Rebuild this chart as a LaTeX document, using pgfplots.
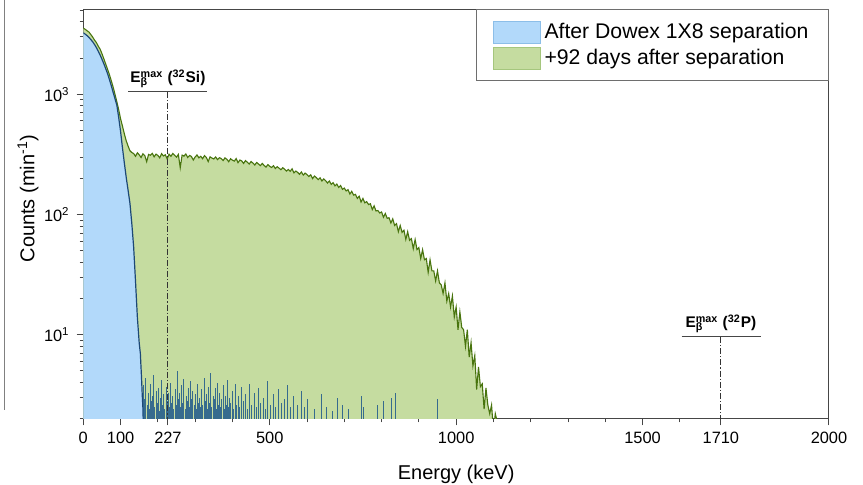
\documentclass[border=0pt]{standalone}
\usepackage{pgfplots}
\pgfplotsset{compat=1.18}
\usepackage{pgfplotstable}
\usepackage{fontspec}
\setmainfont{Liberation Sans}
\definecolor{bluefill}{RGB}{178,217,250}
\definecolor{blueedge}{RGB}{140,190,232}
\definecolor{blueline}{RGB}{28,72,118}
\definecolor{bluenoise}{RGB}{30,88,140}
\definecolor{greenfill}{RGB}{197,220,160}
\definecolor{greenedge}{RGB}{165,198,125}
\definecolor{greenline}{RGB}{72,116,14}
\definecolor{axgray}{RGB}{70,70,70}
\definecolor{leggray}{RGB}{110,110,110}

\pgfplotstableread{
x y
0 3550
5 3480
10 3380
15 3300
20 3150
25 3000
30 2830
35 2700
40 2520
45 2380
50 2180
55 1980
60 1790
65 1620
70 1460
75 1300
80 1150
85 1000
90 865
95 745
100 625
105 545
110 470
115 412
120 372
125 340
130 328
135 322
140 305
145 326
150 314
155 298
160 320
165 309
170 275
175 316
180 311
185 323
190 302
195 318
200 310
205 296
210 321
215 307
220 314
225 290
230 318
235 305
240 322
245 311
250 300
255 316
260 245
265 312
270 306
275 319
280 298
285 310
290 304
295 284
300 301
305 313
310 296
315 305
320 291
325 309
330 298
335 276
340 302
345 295
350 290
355 301
360 286
365 297
370 292
375 281
380 296
385 288
390 275
395 291
400 283
405 278
410 292
415 270
420 284
425 279
430 266
435 281
440 272
445 263
450 276
455 268
460 258
465 271
470 263
475 255
480 266
485 256
490 248
495 260
500 252
505 246
510 255
515 241
520 250
525 243
530 236
535 245
540 238
545 230
550 237
555 229
560 240
565 222
570 230
575 224
580 216
585 226
590 213
595 221
600 215
605 207
610 214
615 199
620 209
625 203
630 195
635 202
640 190
645 198
650 191
655 183
660 190
665 178
670 184
675 173
680 179
685 168
690 174
695 162
700 166
705 157
710 161
715 148
720 156
725 145
730 147
735 136
740 142
745 127
750 136
755 125
760 128
765 121
770 123
775 110
780 118
785 107
790 108
795 103
800 105
805 95
810 102
815 93
820 94
825 85
830 92
835 81
840 84
845 72
850 81
855 71
860 74
865 62
870 72
875 61
880 63
885 52
890 62
895 51
900 53
905 43
910 51
915 42
920 43
925 33
930 42
935 34
940 34
945 28
950 34
955 27
960 26
965 22
970 27
975 19
980 22
985 17
990 21
995 14
1000 17
1005 11
1010 15.5
1015 11.5
1020 11
1025 8
1030 11
1035 6.5
1040 8.6
1045 5.5
1050 6.7
1055 3.5
1060 5.4
1065 3.7
1070 3.9
1075 2.4
1080 3.6
1085 2.6
1090 2.2
1095 2.6
1100 1.6
1105 2.2
1110 1.9
1115 1.5
1120 1
}\greendata

\pgfplotstableread{
x y
0 3250
5 3170
10 3080
15 2980
20 2860
25 2740
30 2600
35 2450
40 2290
45 2130
50 1960
55 1800
60 1640
65 1490
70 1330
75 1180
80 1040
85 920
90 810
95 640
100 490
105 360
110 270
115 205
120 160
125 125
130 85
135 54
140 28
145 14
150 8.5
153 7
156 4.5
158 3.2
160 2.4
162 1.2
170 1
}\bluedata

\pgfplotstableread{
x y
162 3.8
165 2.9
168 4.4
171 2.6
174 3.3
177 2.4
180 3.9
183 2.8
186 3.1
189 4.6
192 2.5
195 3.4
198 2.7
201 3.6
204 2.3
207 3.0
210 4.2
213 2.6
216 3.2
219 2.4
222 3.7
225 2.8
228 3.3
231 2.5
234 4.0
237 2.7
240 3.1
243 2.4
246 3.5
249 2.6
252 5.0
255 2.9
258 3.3
261 2.5
264 3.8
267 2.7
270 4.3
273 2.4
276 3.1
279 2.8
282 3.6
285 2.5
288 4.1
291 2.9
294 3.4
297 2.6
300 3.2
303 2.4
306 3.9
309 2.7
312 3.0
315 2.5
318 3.5
321 2.6
324 4.4
327 2.8
330 3.2
333 2.4
336 3.7
339 2.7
342 4.8
345 2.5
348 3.1
351 2.9
354 3.6
357 2.4
360 4.0
363 2.6
366 3.3
369 2.5
372 2.9
375 3.8
378 2.4
381 3.1
384 2.6
387 4.2
390 2.5
393 3.0
396 2.7
400 3.4
404 2.4
408 3.9
412 2.6
416 3.1
420 2.5
425 3.7
430 2.8
436 3.2
441 2.4
447 3.9
452 2.6
458 3.3
464 2.5
470 3.6
476 2.7
482 3.0
489 2.4
495 4.1
502 2.6
509 3.2
516 2.5
523 3.5
531 2.7
539 2.9
547 3.8
556 2.5
565 3.1
574 2.6
584 3.4
593 2.5
602 2.9
620 2.4
640 3.2
653 2.5
668 2.3
681 3.0
695 2.6
712 2.4
745 3.1
752 2.5
790 2.6
806 2.8
827 3.0
838 3.3
951 2.9
}\noisedata

\begin{document}
\begin{tikzpicture}
\path[use as bounding box] (-41.65pt,-33.15pt) rectangle (389.85pt,209.35pt);
\draw[gray, line width=0.5pt] (-39.15pt,209.35pt) -- (-39.15pt,4.5pt);
\begin{axis}[
  at={(0pt,0pt)}, anchor=south west,
  scale only axis, width=372.85pt, height=204.7pt,
  xmin=0, xmax=2000, ymode=log, ymin=2, ymax=5100,
  axis line style={axgray, line width=0.5pt},
  tick style={axgray, line width=0.5pt},
  tick align=outside, xtick pos=bottom, ytick pos=left,
  major tick length=3.3pt, minor tick length=1.8pt,
  xtick={0,100,227,500,1000,1500,1710,2000},
  xticklabels={0,100,227,500,1000,1500,1710,2000},
  minor xtick={200,300,400,600,700,800,900,1100,1200,1300,1400,1600},
  ytick={10,100,1000},
  yticklabels={10\textsuperscript{1},10\textsuperscript{2},10\textsuperscript{3}},
  minor ytick={2,3,4,5,6,7,8,9,20,30,40,50,60,70,80,90,200,300,400,500,600,700,800,900,2000,3000,4000,5000},
  /pgf/number format/assume math mode=true,
  ticklabel style={font=\fontsize{8.2}{9.8}\selectfont, text=black},
  xlabel={Energy (keV)},
  ylabel={Counts (min\textsuperscript{-1})},
  label style={font=\fontsize{10.3}{12}\selectfont},
  every axis x label/.style={at={(axis description cs:0.5,-0.135)}, anchor=center},
  every axis y label/.style={at={(axis description cs:-0.074,0.538)}, anchor=center, rotate=90},
  legend cell align=left,
  legend style={at={(rel axis cs:1,1)}, anchor=north east, draw=leggray, line width=0.5pt,
    font=\fontsize{10.6}{12.5}\selectfont, inner xsep=8pt, inner ysep=4.5pt, row sep=0pt},
]
\addplot[draw=none, fill=greenfill, forget plot] table[x=x,y=y] {\greendata} \closedcycle;
\addplot[greenline, line width=0.55pt, forget plot] table[x=x,y=y] {\greendata};
\addplot[draw=none, fill=bluefill, forget plot] table[x=x,y=y] {\bluedata} \closedcycle;
\addplot[blueline, line width=0.6pt, forget plot] table[x=x,y=y] {\bluedata};
\addplot[ycomb, bluenoise, opacity=0.85, line width=0.5pt, mark=none, forget plot] table[x=x,y=y] {\noisedata};
\addplot[axgray, line width=0.5pt, forget plot] coordinates {(120,1050) (332,1050)};
\addplot[black!80, line width=0.5pt, dash pattern=on 3pt off 1pt on 0.6pt off 1pt, forget plot] coordinates {(227,1050) (227,1)};
\addplot[axgray, line width=0.5pt, forget plot] coordinates {(1605,9.57) (1817,9.57)};
\addplot[black!80, line width=0.5pt, dash pattern=on 3pt off 1pt on 0.6pt off 1pt, forget plot] coordinates {(1710,9.57) (1710,1)};
\addlegendimage{legend image code/.code={\filldraw[fill=bluefill, draw=blueedge, line width=0.4pt] (0pt,-5.5pt) rectangle (23.5pt,5.5pt);}}
\addlegendentry{After Dowex 1X8 separation}
\addlegendimage{legend image code/.code={\filldraw[fill=greenfill, draw=greenedge, line width=0.4pt] (0pt,-5.5pt) rectangle (23.5pt,5.5pt);}}
\addlegendentry{+92 days after separation}
\node[anchor=base, font=\bfseries\fontsize{7.7}{9}\selectfont] at (axis cs:227,1248) {E\rlap{\textsubscript{β}}\textsuperscript{max} (\textsuperscript{32}Si)};
\node[anchor=base, font=\bfseries\fontsize{7.7}{9}\selectfont] at (axis cs:1710,11.4) {E\rlap{\textsubscript{β}}\textsuperscript{max} (\textsuperscript{32}P)};
\end{axis}
\end{tikzpicture}
\end{document}
